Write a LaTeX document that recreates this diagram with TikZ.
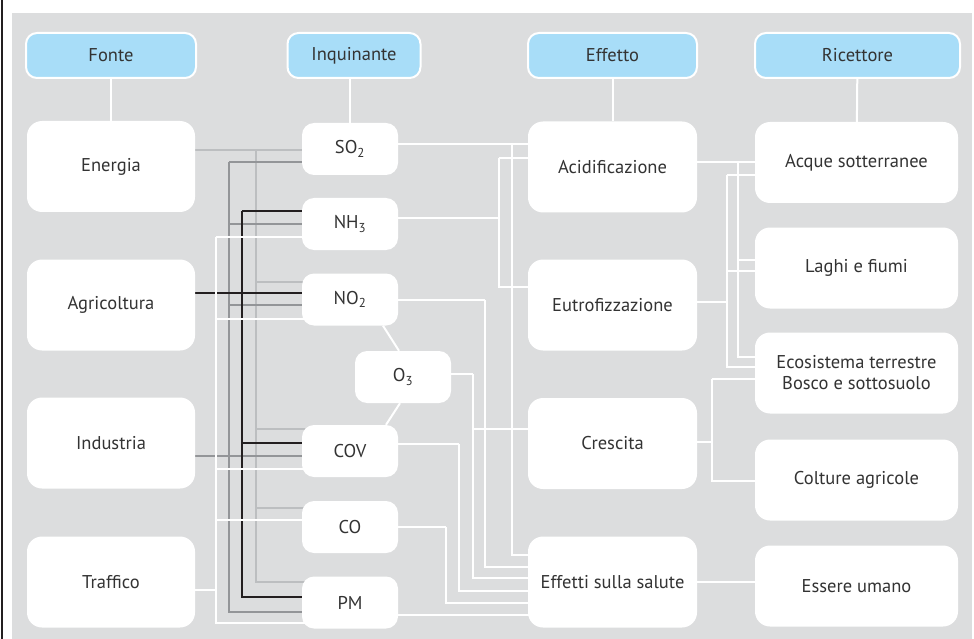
\documentclass[tikz,border=0pt]{standalone}
\usepackage{fontspec}
\setmainfont{PT Sans}
\usetikzlibrary{backgrounds}

\definecolor{bggray}{HTML}{DCDDDE}
\definecolor{headblue}{HTML}{A8DDF8}
\definecolor{txtgray}{HTML}{333333}
\definecolor{lgray}{HTML}{BCBEC0}
\definecolor{mgray}{HTML}{939598}
\definecolor{kgray}{HTML}{231F20}

\begin{document}
\begin{tikzpicture}[x=1pt, y=-1pt,
  font=\fontsize{18.5}{21}\selectfont,
  headbox/.style={draw=white, line width=2pt, fill=headblue, rounded corners=11pt,
    minimum height=45pt, text=txtgray, inner sep=0pt},
  itembox/.style={fill=white, rounded corners=15pt, text=txtgray, align=center, inner sep=0pt},
  srcbox/.style={itembox, minimum width=168pt, minimum height=91pt},
  polbox/.style={itembox, minimum width=96pt, minimum height=52pt, rounded corners=12pt},
  effbox/.style={itembox, minimum width=169pt, minimum height=91pt},
  recbox/.style={itembox, minimum width=203pt, minimum height=81pt},
  lgline/.style={lgray, line width=2.2pt},
  mgline/.style={mgray, line width=2.2pt},
  kline/.style={kgray, line width=2.2pt},
  wline/.style={white, line width=2pt}]
\useasboundingbox (0,0) rectangle (974,639);

% column heads
\node[headbox, minimum width=170pt] (fonte) at (111,55.5) {Fonte};
\node[headbox, minimum width=133pt] (inquinante) at (354,55.5) {Inquinante};
\node[headbox, minimum width=169pt] (effetto) at (612.5,55.5) {Effetto};
\node[headbox, minimum width=205pt] (ricettore) at (857.5,55.5) {Ricettore};

% sources
\node[srcbox] (energia) at (111,166.5) {Energia};
\node[srcbox] (agri) at (111,305) {Agricoltura};
\node[srcbox] (industria) at (111,443) {Industria};
\node[srcbox] (traffico) at (111,582) {Traffico};

% pollutants
\node[polbox] (so2) at (350,149) {SO\textsubscript{2}};
\node[polbox] (nh3) at (350,224) {NH\textsubscript{3}};
\node[polbox] (no2) at (350,299.5) {NO\textsubscript{2}};
\node[polbox] (othree) at (403,377) {O\textsubscript{3}};
\node[polbox] (cov) at (350,451) {COV};
\node[polbox] (co) at (350,527) {CO};
\node[polbox] (pm) at (350,602.5) {PM};

% effects
\node[effbox] (acid) at (612.5,167) {Acidificazione};
\node[effbox] (eutro) at (612.5,305) {Eutrofizzazione};
\node[effbox] (crescita) at (612.5,443.5) {Crescita};
\node[effbox] (salute) at (612.5,582) {Effetti sulla salute};

% receptors
\node[recbox] (acque) at (856.5,162.5) {Acque sotterranee};
\node[recbox] (laghi) at (856.5,268) {Laghi e fiumi};
\node[recbox] (ecosis) at (856.5,373) {Ecosistema terrestre\\Bosco e sottosuolo};
\node[recbox] (colture) at (856.5,480) {Colture agricole};
\node[recbox] (umano) at (856.5,586) {Essere umano};

\begin{scope}[on background layer]
\fill[white] (0,0) rectangle (974,639);
\fill[bggray] (12,13) rectangle (972,639);
\fill[kgray] (1,0) rectangle (3,639);

% heads to first row
\draw[wline] (fonte) -- (energia);
\draw[wline] (so2 |- inquinante) -- (so2);
\draw[wline] (effetto) -- (acid);
\draw[wline] (ricettore) -- (acque);

% Energia
\coordinate (ebus) at (256,150);
\draw[lgline] ([yshift=16.5pt]energia.center) -- (so2.center |- ebus);
\foreach \n/\s in {no2/17.5, cov/22, co/19, pm/20.5}
  \draw[lgline] ([yshift=\s pt]\n.center) -| (ebus);

% Industria
\coordinate (ibus) at (229,162);
\draw[mgline] ([yshift=-13pt]industria.center) -- ([yshift=-5pt]cov.center);
\foreach \n/\s in {so2/-13, nh3/0, no2/-5.5, cov/-5, pm/-9.5}
  \draw[mgline] ([yshift=\s pt]\n.center) -| (ibus);

% Agricoltura
\coordinate (abus) at (242,211);
\draw[kline] ([yshift=12pt]agri.center) -- ([yshift=6.5pt]no2.center);
\foreach \n/\s in {nh3/13, no2/6.5, cov/8, pm/5.5}
  \draw[kline] ([yshift=\s pt]\n.center) -| (abus);

% Traffico
\coordinate (tbus) at (216,237);
\draw[wline] ([yshift=-8pt]traffico.center) -| (tbus);
\foreach \n/\s in {nh3/-13, no2/-19.5, cov/-18, co/7, pm/-20.5}
  \draw[wline] ([yshift=\s pt]\n.center) -| (tbus);

% ozone
\draw[wline] ([xshift=33pt]no2.south) -- ([xshift=-4pt]othree.north);
\draw[wline] ([xshift=36pt]cov.north) -- ([xshift=-3pt]othree.south);

% pollutants to effects
\coordinate (sbus) at (512,144);
\draw[wline] ([yshift=5pt]so2.center) -- ([yshift=23pt]acid.center);
\draw[wline] ([yshift=27pt]salute.center) -| (sbus);
\coordinate (nbus) at (499,158);
\draw[wline] ([yshift=6pt]nh3.center) -| (nbus);
\draw[wline] ([yshift=9pt]acid.center) -| (nbus);
\draw[wline] ([yshift=18pt]eutro.center) -| (nbus);
\coordinate (obus) at (485,299.5);
\draw[wline] (no2.center) -- (obus);
\draw[wline] ([yshift=15pt]salute.center) -| (obus);
\coordinate (o3bus) at (473,374);
\draw[wline] ([yshift=3pt]othree.center) -- (o3bus);
\draw[wline] ([yshift=4pt]salute.center) -| (o3bus);
\draw[wline] ([yshift=14.5pt]crescita.center) -| (o3bus);
\coordinate (cbus) at (459,444);
\draw[wline] ([yshift=7pt]cov.center) -- (cbus);
\draw[wline] ([yshift=-9pt]salute.center) -| (cbus);
\coordinate (cobus) at (446,527);
\draw[wline] (co.center) -- (cobus);
\draw[wline] ([yshift=-21pt]salute.center) -| (cobus);
\draw[wline] ([yshift=-12.5pt]pm.center) -- ([yshift=-33pt]salute.center);

% effects to receptors
\coordinate (acbus) at (738,162);
\draw[wline] ([yshift=5pt]acid.center) -- (acque.center |- acbus);
\draw[wline] ([yshift=8pt]laghi.center) -| (acbus);
\draw[wline] ([yshift=16pt]ecosis.center) -| (acbus);
\coordinate (eubus) at (727,175);
\draw[wline] ([yshift=3pt]eutro.center) -| (eubus);
\draw[wline] ([yshift=-12.5pt]acque.center) -| (eubus);
\draw[wline] ([yshift=-3pt]laghi.center) -| (eubus);
\draw[wline] ([yshift=6pt]ecosis.center) -| (eubus);
\coordinate (crbus) at (712,379);
\draw[wline] ([yshift=1.5pt]crescita.center) -| (crbus);
\draw[wline] ([yshift=-6pt]ecosis.center) -| (crbus);
\draw[wline] ([yshift=-1pt]colture.center) -| (crbus);
\draw[wline] (salute.center) -- (umano.center |- salute.center);
\end{scope}
\end{tikzpicture}
\end{document}
